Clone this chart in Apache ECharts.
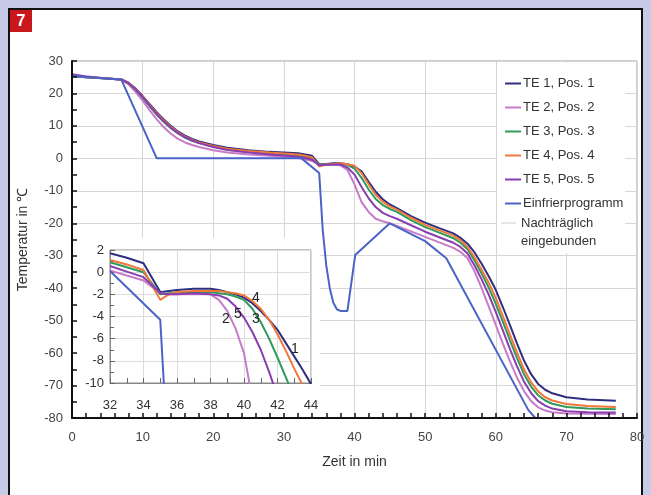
<!DOCTYPE html>
<html>
<head>
<meta charset="utf-8">
<script src="https://cdn.jsdelivr.net/npm/echarts@6.0.0/dist/echarts.min.js"></script>
<style>
  body { margin: 0; background: #c7cbe8; }
  .wrap { position: relative; width: 651px; height: 495px; overflow: hidden; }
  .panel { position: absolute; left: 8px; top: 8px; width: 635px; height: 500px; background: #fff; border: 2px solid #111; box-sizing: border-box; }
  .badge { position: absolute; left: 10px; top: 10px; width: 22px; height: 22px; background: #c8181e; color: #fff;
           font: bold 16px "Liberation Sans", Arial, sans-serif; text-align: center; line-height: 22px; }
  #chart { position: absolute; left: 0; top: 0; width: 651px; height: 495px; }
</style>
</head>
<body>
<div class="wrap">
  <div class="panel"></div>
  <div class="badge">7</div>
  <div id="chart"></div>
</div>
<script>
// Zeitpunkte der Messkurven (min)
var zeit = [0, 2, 5, 7, 8, 9, 10, 11, 12, 13, 14, 15, 16, 17, 18, 20, 22, 25, 28, 30,
  32, 33, 34, 35, 36, 37, 38, 39, 40, 41, 42, 43, 44, 45, 46, 48, 50, 52, 54, 55,
  56, 57, 58, 59, 60, 61, 62, 63, 64, 65, 66, 67, 68, 70, 73, 77];

// Temperaturen in °C
var te1 = [25.3, 25.0, 24.6, 24.3, 23.3, 21.5, 19.2, 16.7, 14.2, 12.0, 10.0, 8.3, 7.0, 6.0, 5.2, 4.1, 3.3, 2.5, 2.0, 1.8,
  1.6, 1.2, 0.8, -1.8, -1.7, -1.5, -1.5, -1.8, -2.5, -4.0, -7.2, -10.3, -12.6, -14.2, -15.3, -17.8, -19.8, -21.5, -23.1, -24.5,
  -26.3, -29.0, -32.5, -36.3, -40.5, -45.8, -51.3, -57.0, -62.3, -66.5, -69.5, -71.3, -72.4, -73.6, -74.3, -74.7];
var te2 = [26.0, 25.2, 24.6, 24.2, 22.8, 20.5, 17.8, 14.8, 12.0, 9.6, 7.6, 6.0, 4.9, 4.1, 3.5, 2.5, 1.8, 1.2, 0.8, 0.5,
  0.1, -0.3, -0.8, -2.0, -2.0, -2.0, -2.1, -3.6, -8.0, -13.5, -16.5, -18.6, -19.4, -20.0, -20.8, -22.5, -24.2, -25.9, -27.6, -28.8,
  -30.8, -34.8, -40.0, -45.6, -51.3, -57.0, -62.5, -67.5, -71.7, -74.8, -76.7, -77.7, -78.2, -78.6, -78.7, -78.8];
var te3 = [25.5, 25.0, 24.6, 24.3, 23.1, 21.1, 18.7, 16.0, 13.4, 11.2, 9.3, 7.7, 6.4, 5.4, 4.7, 3.6, 2.8, 2.1, 1.6, 1.3,
  0.9, 0.5, 0.0, -2.0, -1.9, -1.8, -1.7, -2.0, -3.2, -6.0, -9.6, -12.5, -14.4, -15.6, -16.5, -19.0, -21.2, -22.9, -24.6, -26.0,
  -28.0, -31.5, -35.5, -39.8, -44.8, -50.3, -56.0, -61.5, -66.5, -70.3, -73.0, -74.6, -75.6, -76.6, -77.1, -77.3];
var te4 = [25.6, 25.1, 24.6, 24.3, 23.2, 21.3, 19.0, 16.4, 13.9, 11.7, 9.7, 8.0, 6.7, 5.7, 4.9, 3.8, 3.0, 2.3, 1.8, 1.5,
  1.2, 0.8, 0.3, -2.5, -1.9, -1.7, -1.5, -1.8, -2.3, -4.6, -8.0, -11.2, -13.4, -14.8, -15.8, -18.3, -20.5, -22.2, -23.8, -25.2,
  -27.3, -30.5, -34.3, -38.3, -43.0, -48.5, -54.2, -59.8, -65.0, -69.0, -71.8, -73.6, -74.6, -75.7, -76.3, -76.6];
var te5 = [25.8, 25.2, 24.6, 24.3, 23.2, 21.3, 18.9, 16.2, 13.6, 11.4, 9.4, 7.8, 6.5, 5.5, 4.7, 3.5, 2.6, 1.8, 1.2, 0.9,
  0.5, 0.1, -0.4, -2.1, -2.0, -1.9, -1.9, -2.8, -5.0, -8.8, -12.3, -15.0, -16.8, -17.8, -18.6, -20.6, -22.6, -24.3, -26.0, -27.3,
  -29.3, -33.0, -37.3, -42.0, -47.3, -53.0, -58.7, -64.0, -68.8, -72.3, -74.8, -76.2, -77.1, -77.9, -78.2, -78.3];

// Einfrierprogramm
var zeitProg = [0, 2, 5, 7, 12, 32.5, 35, 35.5, 36, 36.5, 37, 37.5, 38, 39, 40.1, 45, 50, 53, 64.6, 65.6];
var prog = [25.5, 25.0, 24.6, 24.2, 0, 0, -4.5, -22, -33, -40, -44.5, -46.5, -47, -47, -29.8, -20, -25.5, -30.8, -77.5, -80];

// Ausschnitt (nachträglich eingebunden), 32 - 44 min
var zeitInset = [32, 33, 34, 35, 35.5, 36, 37, 38, 38.5, 39, 39.5, 40, 40.5, 41, 41.5, 42, 42.5, 43, 43.5, 44, 44.5];
var te1Inset = [1.7, 1.3, 0.8, -1.8, -1.7, -1.6, -1.5, -1.5, -1.6, -1.8, -2.0, -2.3, -2.8, -3.5, -4.3, -5.2, -6.4, -7.6, -8.8, -10.1, -11.3];
var te2Inset = [0.15, -0.3, -0.75, -1.9, -2.0, -2.0, -2.0, -2.0, -2.5, -3.5, -5.1, -7.3, -11.5, null, null, null, null, null, null, null, null];
var te3Inset = [0.9, 0.45, 0.0, -2.0, -1.9, -1.8, -1.8, -1.8, -1.9, -2.0, -2.2, -2.5, -3.3, -4.5, -6.0, -7.7, -9.5, -11.3, null, null, null];
var te4Inset = [1.1, 0.7, 0.2, -2.5, -2.0, -1.8, -1.7, -1.7, -1.7, -1.8, -1.9, -2.1, -2.6, -3.3, -4.3, -5.6, -7.1, -8.7, -10.2, null, null];
var te5Inset = [0.55, 0.05, -0.45, -1.9, -2.0, -2.0, -1.9, -2.0, -2.1, -2.4, -3.1, -4.1, -5.4, -7.0, -9.0, -11.2, null, null, null, null, null];
var zeitProgInset = [32, 35, 35.25];
var progInset = [0.1, -4.3, -11];

var namen = ['TE 1, Pos. 1', 'TE 2, Pos. 2', 'TE 3, Pos. 3', 'TE 4, Pos. 4', 'TE 5, Pos. 5', 'Einfrierprogramm'];
var farben = ['#2f2f80', '#c77bc9', '#2f9a5c', '#f07838', '#8a3dae', '#4b63c6'];

function paare(xs, ys) {
  var out = [];
  for (var i = 0; i < xs.length; i++) {
    if (ys[i] !== null) out.push([xs[i], ys[i]]);
  }
  return out;
}

var haupt = [paare(zeit, te1), paare(zeit, te2), paare(zeit, te3), paare(zeit, te4), paare(zeit, te5), paare(zeitProg, prog)];
var inset = [paare(zeitInset, te1Inset), paare(zeitInset, te2Inset), paare(zeitInset, te3Inset),
  paare(zeitInset, te4Inset), paare(zeitInset, te5Inset), paare(zeitProgInset, progInset)];

var schrift = '"Liberation Sans", Arial, sans-serif';
var series = [];
for (var i = 0; i < 6; i++) {
  series.push({
    name: namen[i], type: 'line', xAxisIndex: 0, yAxisIndex: 0,
    data: haupt[i], symbol: 'none', clip: true, z: 2,
    lineStyle: { width: 2, color: farben[i] }, itemStyle: { color: farben[i] }
  });
}
// Ausschnitt: eigene Serien ohne Legende
for (var j = 0; j < 6; j++) {
  series.push({
    name: 'inset' + j, type: 'line', xAxisIndex: 1, yAxisIndex: 1,
    data: inset[j], symbol: 'none', clip: true, z: 5,
    lineStyle: { width: 2, color: farben[j] }
  });
}

var chart = echarts.init(document.getElementById('chart'));
var option = {
  animation: false,
  textStyle: { fontFamily: schrift },
  grid: [
    { left: 72, top: 61, width: 565, height: 357, show: true, borderColor: '#999', borderWidth: 1, z: 0 },
    { left: 110, top: 250, width: 201, height: 133, show: true, borderColor: '#888', borderWidth: 1, z: 3 }
  ],
  legend: {
    data: namen, orient: 'vertical', left: 500, top: 72, itemGap: 11, itemWidth: 16, itemHeight: 2,
    icon: 'rect',
    textStyle: { fontSize: 13, color: '#333', fontFamily: schrift, padding: [0, 0, 0, -3] }, z: 6
  },
  xAxis: [
    {
      type: 'value', gridIndex: 0, min: 0, max: 80, interval: 10, z: 4,
      name: 'Zeit in min', nameLocation: 'middle', nameGap: 37,
      nameTextStyle: { fontSize: 14, color: '#333' },
      axisLine: { onZero: false, lineStyle: { color: '#111', width: 2 } },
      axisTick: { inside: true, length: 5, lineStyle: { color: '#111', width: 1.5 } },
      minorTick: { show: true, splitNumber: 5, length: 5, lineStyle: { color: '#111', width: 1.5 } },
      axisLabel: { fontSize: 13, color: '#444', margin: 13 },
      splitLine: { show: false }
    },
    {
      type: 'value', gridIndex: 1, min: 32, max: 44, interval: 2, z: 3,
      axisLine: { onZero: false, lineStyle: { color: '#888' } },
      axisTick: { inside: true, length: 5, lineStyle: { color: '#666' } },
      minorTick: { show: true, splitNumber: 2, length: 5, lineStyle: { color: '#666' } },
      axisLabel: { fontSize: 13, color: '#333', margin: 16 },
      splitLine: { lineStyle: { color: '#dcdcdc' } }
    },
    {
      // nur Gitterlinien des Hauptdiagramms
      type: 'value', gridIndex: 0, min: 0, max: 80, interval: 10, position: 'top', z: 0,
      axisLine: { show: false }, axisTick: { show: false }, axisLabel: { show: false },
      splitLine: { lineStyle: { color: '#d6d6d6' } }
    }
  ],
  yAxis: [
    {
      type: 'value', gridIndex: 0, min: -80, max: 30, interval: 10, z: 4,
      name: 'Temperatur in ℃', nameLocation: 'middle', nameGap: 42, nameRotate: 90,
      nameTextStyle: { fontSize: 14, color: '#333' },
      axisLine: { show: true, onZero: false, lineStyle: { color: '#111', width: 2 } },
      axisTick: { show: true, inside: true, length: 5, lineStyle: { color: '#111', width: 1.5 } },
      minorTick: { show: true, splitNumber: 2, length: 5, lineStyle: { color: '#111', width: 1.5 } },
      axisLabel: { fontSize: 13, color: '#444', margin: 9 },
      splitLine: { show: false }
    },
    {
      type: 'value', gridIndex: 1, min: -10, max: 2, interval: 2, z: 3,
      axisLine: { show: true, onZero: false, lineStyle: { color: '#888' } },
      axisTick: { show: true, inside: true, length: 5, lineStyle: { color: '#666' } },
      minorTick: { show: true, splitNumber: 2, length: 4, lineStyle: { color: '#666' } },
      axisLabel: { fontSize: 13, color: '#333', margin: 6 },
      splitLine: { lineStyle: { color: '#dcdcdc' } }
    },
    {
      type: 'value', gridIndex: 0, min: -80, max: 30, interval: 10, position: 'right', z: 0,
      axisLine: { show: false }, axisTick: { show: false }, axisLabel: { show: false },
      splitLine: { lineStyle: { color: '#d6d6d6' } }
    }
  ],
  graphic: [
    // weißer Hintergrund hinter Ausschnitt und Legende
    { type: 'rect', z: 1, shape: { x: 73, y: 238, width: 247, height: 180 }, style: { fill: '#fff' } },
    { type: 'rect', z: 1, shape: { x: 497, y: 63, width: 128, height: 190 }, style: { fill: '#fff' } },
    { type: 'line', z: 6, shape: { x1: 501, y1: 223, x2: 516, y2: 223 }, style: { stroke: '#e6e6e6', lineWidth: 2 } },
    { type: 'text', z: 6, left: 521, top: 214, style: { text: 'Nachträglich\neingebunden', fill: '#333', font: '13px ' + schrift, lineHeight: 18 } },
    // Kurvennummern im Ausschnitt
    { type: 'text', z: 6, left: 252, top: 291, style: { text: '4', fill: '#222', font: '14px ' + schrift } },
    { type: 'text', z: 6, left: 222, top: 312, style: { text: '2', fill: '#222', font: '14px ' + schrift } },
    { type: 'text', z: 6, left: 234, top: 307, style: { text: '5', fill: '#222', font: '14px ' + schrift } },
    { type: 'text', z: 6, left: 252, top: 312, style: { text: '3', fill: '#222', font: '14px ' + schrift } },
    { type: 'text', z: 6, left: 291, top: 342, style: { text: '1', fill: '#222', font: '14px ' + schrift } }
  ],
  series: series
};
chart.setOption(option);
</script>
</body>
</html>
